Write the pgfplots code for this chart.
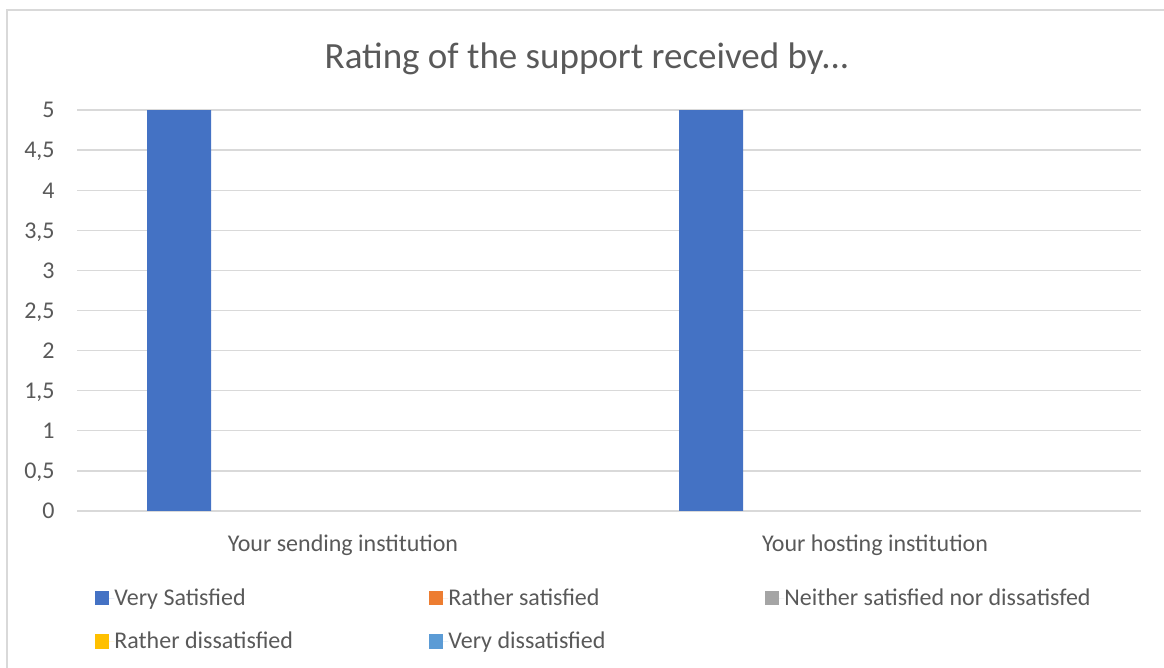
\documentclass[border=0pt]{standalone}
\usepackage{pgfplots}
\pgfplotsset{compat=1.18}
\usepackage{fontspec}
\setmainfont{Carlito}
\definecolor{txt}{HTML}{595959}
\definecolor{gridc}{HTML}{D9D9D9}
\definecolor{cA}{HTML}{4472C4}
\definecolor{cB}{HTML}{ED7D31}
\definecolor{cC}{HTML}{A5A5A5}
\definecolor{cD}{HTML}{FFC000}
\definecolor{cE}{HTML}{5B9BD5}
\newcommand{\lf}{\fontsize{12}{13}\selectfont}
\begin{document}
\begin{tikzpicture}
\useasboundingbox (0,0) rectangle (582pt,334pt);
\draw[gridc, line width=0.6pt] (3.5pt,329pt) rectangle (600pt,-10pt);
\begin{axis}[
  at={(38.5pt,78.5pt)}, anchor=south west,
  scale only axis, width=532pt, height=200.5pt,
  xmin=-0.5, xmax=1.5, ymin=0, ymax=5,
  ytick={0,0.5,1,1.5,2,2.5,3,3.5,4,4.5,5},
  xtick={0,1},
  xticklabels={Your sending institution, Your hosting institution},
  ymajorgrids, grid style={gridc, line width=0.7pt},
  axis line style={draw=none}, major tick length=0pt,
  ybar, bar width=0.1203,
  ticklabel style={font=\lf, text=txt},
  yticklabel style={anchor=base east, inner sep=0pt, xshift=-11pt, yshift=-3.9pt},
  xticklabel style={anchor=base, inner sep=0pt, yshift=-20.3pt},
  /pgf/number format/use comma,
  /pgf/number format/assume math mode=true,
  legend columns=3,
  legend cell align=left,
  legend style={at={(0.0169,-0.1925)}, anchor=north west, draw=none, fill=none,
    inner sep=0pt, column sep=0pt, row sep=11.8pt, font=\lf, text=txt,
    nodes={inner sep=0pt}},
  legend image code/.code={\fill[#1] (0pt,-3.5pt) rectangle (7pt,3.8pt); \path (0pt,0pt) -- (9.5pt,0pt);},
]
\addplot[fill=cA, draw=none, bar shift=-0.308] coordinates {(0,5) (1,5)};
\addlegendentry{\makebox[157.5pt][l]{Very Satisfied}}
\addlegendimage{fill=cB, draw=none}
\addlegendentry{\makebox[158.5pt][l]{Rather satisfied}}
\addlegendimage{fill=cC, draw=none}
\addlegendentry{Neither satisfied nor dissatisfed}
\addlegendimage{fill=cD, draw=none}
\addlegendentry{\makebox[157.5pt][l]{Rather dissatisfied}}
\addlegendimage{fill=cE, draw=none}
\addlegendentry{\makebox[158.5pt][l]{Very dissatisfied}}
\end{axis}
\node[font=\fontsize{18.5}{20}\selectfont, text=txt] at (293.5pt,304.5pt) {Rating of the support received by...};
\end{tikzpicture}
\end{document}
